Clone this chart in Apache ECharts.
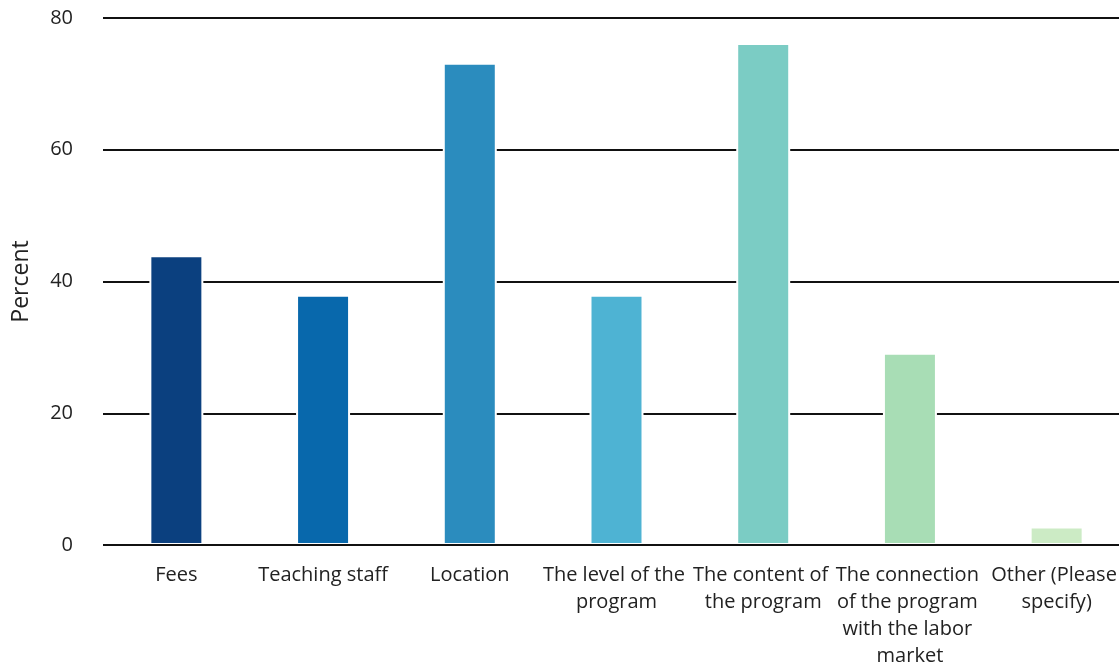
<!DOCTYPE html>
<html>
<head>
<meta charset="utf-8">
<script src="https://cdn.jsdelivr.net/npm/echarts@6/dist/echarts.min.js"></script>
<style>
  html, body { margin: 0; padding: 0; background: #fff; }
  #chart { width: 1119px; height: 663px; }
</style>
</head>
<body>
<div id="chart"></div>
<script>
// Reasons for choosing the program (percent of respondents)
const categories = [
  'Fees',
  'Teaching staff',
  'Location',
  'The level of the program',
  'The content of the program',
  'The connection of the program with the labor market',
  'Other (Please specify)'
];
const percentValues = [44.0, 38.0, 73.2, 38.0, 76.2, 29.2, 2.8];
const barColors = ['#0b407f', '#0868ac', '#2b8cbe', '#4eb3d3', '#7bccc4', '#a8ddb5', '#ccebc5'];
const yTicks = { min: 0, max: 80, interval: 20 };

const fontFamily = '"Open Sans", sans-serif';
const chart = echarts.init(document.getElementById('chart'));

chart.setOption({
  animation: false,
  textStyle: { fontFamily: fontFamily },
  // plot runs a little past the right edge of the canvas
  grid: { left: 103, right: -11, top: 18, bottom: 118, containLabel: false, outerBoundsMode: 'none' },
  xAxis: {
    type: 'category',
    data: categories,
    axisLine: { show: false },
    axisTick: { show: false },
    axisLabel: {
      interval: 0,
      margin: 17,
      color: '#222',
      fontSize: 20,
      lineHeight: 27,
      width: 152,
      overflow: 'break',
      fontFamily: fontFamily
    }
  },
  yAxis: {
    type: 'value',
    min: yTicks.min,
    max: yTicks.max,
    interval: yTicks.interval,
    name: 'Percent',
    nameLocation: 'middle',
    nameGap: 70,
    nameTextStyle: { color: '#222', fontSize: 23, fontFamily: fontFamily },
    axisLine: { show: false },
    axisTick: { show: false },
    axisLabel: { color: '#222', fontSize: 20, margin: 30, fontFamily: fontFamily },
    splitLine: { lineStyle: { color: '#111', width: 2 } }
  },
  series: [{
    type: 'bar',
    data: percentValues.map((v, i) => ({ value: v, itemStyle: { color: barColors[i] } })),
    barWidth: 54,
    itemStyle: { borderColor: '#fff', borderWidth: 2 },
    // baseline drawn over the bars' bottom edges
    markLine: {
      silent: true,
      symbol: 'none',
      label: { show: false },
      lineStyle: { color: '#111', width: 2, type: 'solid' },
      data: [{ yAxis: 0 }]
    }
  }]
});
</script>
</body>
</html>
